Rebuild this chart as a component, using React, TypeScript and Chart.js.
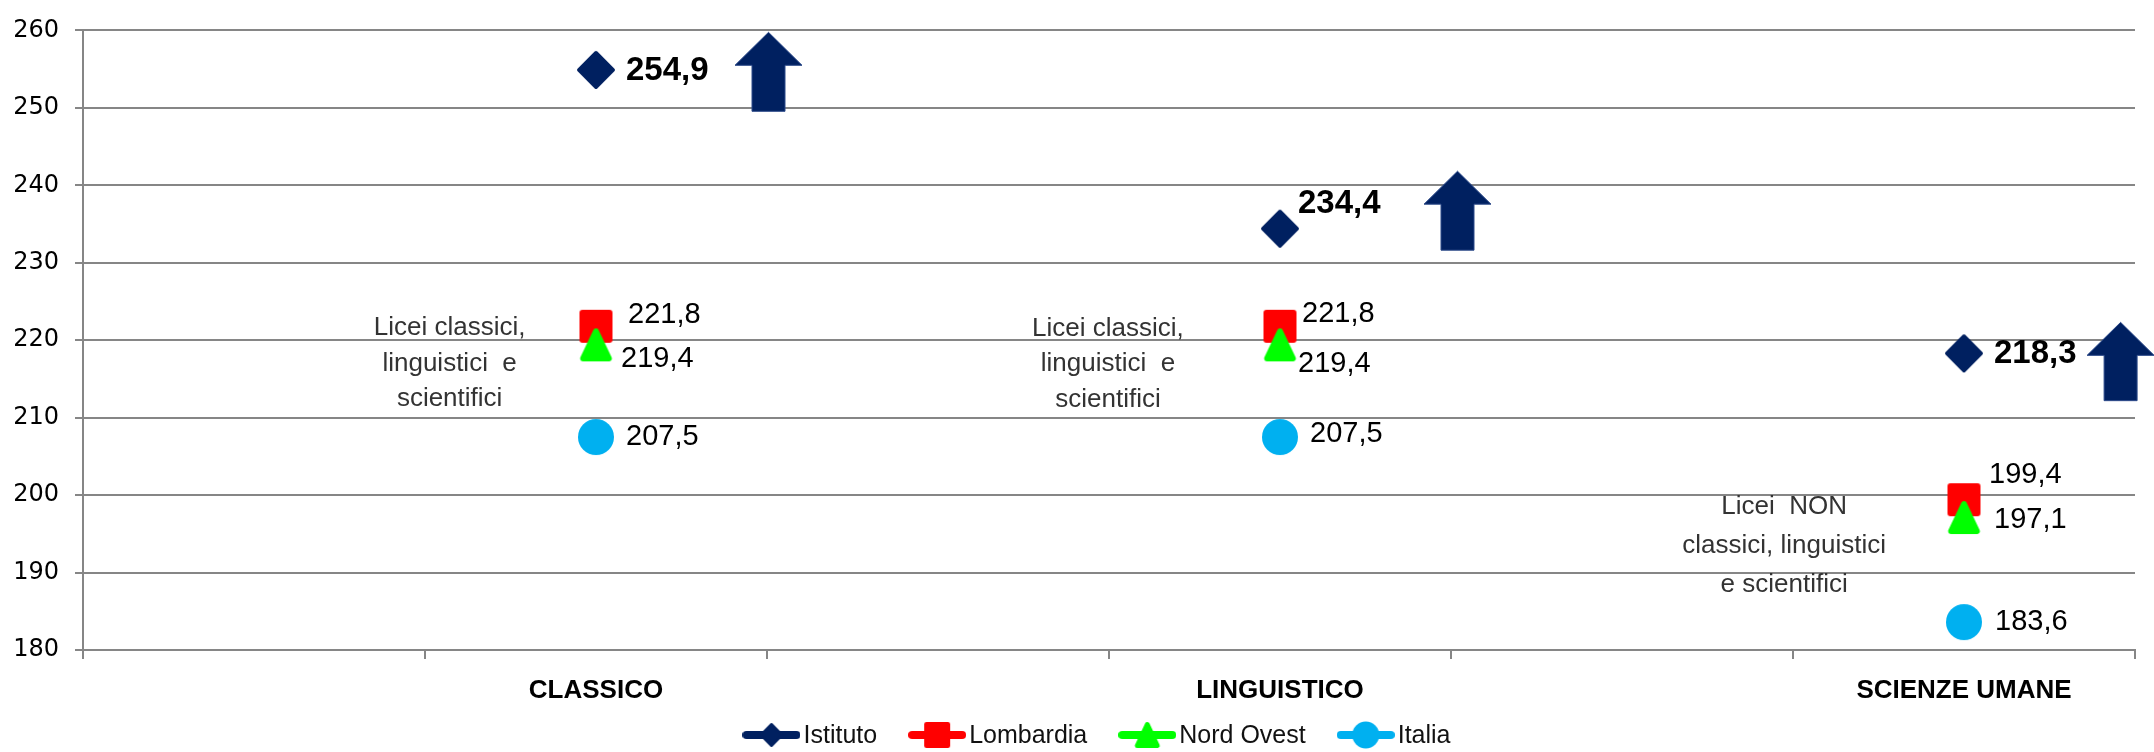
import React, { useEffect, useRef } from 'react';
import { Chart, registerables } from 'chart.js';

Chart.register(...registerables);

// ---------- data ----------
const categories = ['', 'CLASSICO', '', 'LINGUISTICO', '', 'SCIENZE UMANE'];
const seriesNames = ['Istituto', 'Lombardia', 'Nord Ovest', 'Italia'];
const istituto = [null, 254.9, null, 234.4, null, 218.3];
const lombardia = [null, 221.8, null, 221.8, null, 199.4];
const nordOvest = [null, 219.4, null, 219.4, null, 197.1];
const italia = [null, 207.5, null, 207.5, null, 183.6];
const yMin = 180;
const yMax = 260;
const yStep = 10;
const annotationTexts = [
  ['Licei classici,', 'linguistici  e', 'scientifici'],
  ['Licei classici,', 'linguistici  e', 'scientifici'],
  ['Licei  NON', 'classici, linguistici', 'e scientifici'],
];

// ---------- styles / placement ----------
const colors = ['#002060', '#FF0000', '#00FF00', '#00B0F0'];
const shapes = ['diamond', 'square', 'triangle', 'circle'];
const markerSizes = [38, 33, 33, 36];
const legendMarkerSizes = [24, 26, 26, 27];
const drawOrder = [1, 3, 2, 4];
// label offsets (px) from each drawn point, in point order
const labelOffsets = [
  [[30, 1], [18, -25], [30, 1]],
  [[32, -11], [22, -12], [25, -25]],
  [[25, 14], [18, 19], [30, 2]],
  [[30, 0], [30, -3], [31, 0]],
];
// arrows next to Istituto points: [dx, tipDy, bottomDy]
const arrowOffsets = [
  [172.5, -37.6, 41.4],
  [177.5, -57.5, 21.5],
  [156.6, -31, 47.3],
];
// annotation blocks: x in category index units, y in value units, line height px
const annotationPos = [
  { x: 0.572, y: 217.0, lh: 35.5 },
  { x: 2.497, y: 216.9, lh: 35.5 },
  { x: 4.474, y: 193.46, lh: 39 },
];

const FONT = "'Liberation Sans', Arial, sans-serif";

function pathShape(ctx: CanvasRenderingContext2D, shape: string, cx: number, cy: number, s: number, color: string) {
  ctx.fillStyle = color;
  ctx.strokeStyle = color;
  ctx.lineJoin = 'round';
  if (shape === 'circle') {
    ctx.beginPath();
    ctx.arc(cx, cy, s / 2, 0, Math.PI * 2);
    ctx.fill();
    return;
  }
  const lw = shape === 'diamond' ? s * 0.1 : s * 0.18;
  const h = s / 2 - lw / 2;
  ctx.lineWidth = lw;
  ctx.beginPath();
  if (shape === 'diamond') {
    ctx.moveTo(cx, cy - h);
    ctx.lineTo(cx + h, cy);
    ctx.lineTo(cx, cy + h);
    ctx.lineTo(cx - h, cy);
  } else if (shape === 'square') {
    ctx.rect(cx - h, cy - h, 2 * h, 2 * h);
  } else {
    ctx.moveTo(cx, cy - h);
    ctx.lineTo(cx + h * 0.95, cy + h);
    ctx.lineTo(cx - h * 0.95, cy + h);
  }
  ctx.closePath();
  ctx.fill();
  ctx.stroke();
}

function makeMarker(shape: string, s: number, color: string) {
  const c = document.createElement('canvas');
  const size = Math.ceil(s + 4);
  c.width = size;
  c.height = size;
  const ctx = c.getContext('2d')!;
  pathShape(ctx, shape, size / 2, size / 2, s, color);
  return c;
}

function makeLegendIcon(shape: string, s: number, color: string) {
  const c = document.createElement('canvas');
  c.width = 58;
  c.height = 30;
  const ctx = c.getContext('2d')!;
  ctx.strokeStyle = color;
  ctx.lineWidth = 8;
  ctx.lineCap = 'round';
  ctx.beginPath();
  ctx.moveTo(4, 15);
  ctx.lineTo(54, 15);
  ctx.stroke();
  pathShape(ctx, shape, 29, 15, s, color);
  return c;
}

const fmt = (v: number) => v.toFixed(1).replace('.', ',');

export default function App() {
  const ref = useRef<HTMLCanvasElement>(null);

  useEffect(() => {
    document.body.style.margin = '0';
    document.body.style.overflow = 'hidden';
    const canvas = ref.current!;
    const seriesData = [istituto, lombardia, nordOvest, italia];
    const markers = shapes.map((sh, i) => makeMarker(sh, markerSizes[i], colors[i]));
    const legendIcons = shapes.map((sh, i) => makeLegendIcon(sh, legendMarkerSizes[i], colors[i]));

    const decorPlugin = {
      id: 'decor',
      afterDatasetsDraw(chart: any) {
        const ctx: CanvasRenderingContext2D = chart.ctx;
        const xs = chart.scales.x;
        const ys = chart.scales.y;
        ctx.save();
        // annotations
        ctx.fillStyle = '#333333';
        ctx.font = `26px ${FONT}`;
        ctx.textAlign = 'center';
        ctx.textBaseline = 'middle';
        annotationTexts.forEach((lines, k) => {
          const p = annotationPos[k];
          const cx = xs.getPixelForValue(p.x);
          const cy = ys.getPixelForValue(p.y);
          lines.forEach((ln, li) => {
            ctx.fillText(ln, cx, cy + (li - (lines.length - 1) / 2) * p.lh);
          });
        });
        // arrows next to Istituto
        const meta0 = chart.getDatasetMeta(0);
        let ai = 0;
        meta0.data.forEach((el: any, j: number) => {
          if (istituto[j] == null) return;
          const [dx, tipDy, botDy] = arrowOffsets[ai++];
          const cx = el.x + dx;
          const tip = el.y + tipDy;
          const base = tip + 33;
          const bot = el.y + botDy;
          ctx.fillStyle = colors[0];
          ctx.strokeStyle = '#2c4a8a';
          ctx.lineWidth = 1;
          ctx.beginPath();
          ctx.moveTo(cx, tip);
          ctx.lineTo(cx + 33.5, base);
          ctx.lineTo(cx + 16.5, base);
          ctx.lineTo(cx + 16.5, bot);
          ctx.lineTo(cx - 16.5, bot);
          ctx.lineTo(cx - 16.5, base);
          ctx.lineTo(cx - 33.5, base);
          ctx.closePath();
          ctx.fill();
          ctx.stroke();
        });
        // data labels
        ctx.textAlign = 'left';
        ctx.textBaseline = 'middle';
        ctx.fillStyle = '#000';
        seriesData.forEach((arr, i) => {
          const meta = chart.getDatasetMeta(i);
          ctx.font = i === 0 ? `bold 33px ${FONT}` : `29px ${FONT}`;
          let pi = 0;
          meta.data.forEach((el: any, j: number) => {
            const v = arr[j];
            if (v == null) return;
            const [dx, dy] = labelOffsets[i][pi++];
            ctx.fillText(fmt(v), el.x + dx, el.y + dy);
          });
        });
        ctx.restore();
      },
      afterDraw(chart: any) {
        const ctx: CanvasRenderingContext2D = chart.ctx;
        ctx.save();
        ctx.font = `25px ${FONT}`;
        ctx.textBaseline = 'middle';
        ctx.textAlign = 'left';
        ctx.fillStyle = '#111';
        const iconW = 58, gap = 3, spacing = 31;
        const widths = seriesNames.map((n) => iconW + gap + ctx.measureText(n).width);
        const total = widths.reduce((a, b) => a + b, 0) + spacing * (seriesNames.length - 1);
        let x = chart.width / 2 + 19.5 - total / 2;
        const cy = 735;
        seriesNames.forEach((n, i) => {
          ctx.drawImage(legendIcons[i], x, cy - 15);
          ctx.fillText(n, x + iconW + gap, cy + 1);
          x += widths[i] + spacing;
        });
        ctx.restore();
      },
    };

    const gridColor = '#868686';
    const chart = new Chart(canvas, {
      type: 'line',
      data: {
        labels: categories,
        datasets: seriesNames.map((name, i) => ({
          label: name,
          data: seriesData[i],
          showLine: false,
          borderColor: colors[i],
          backgroundColor: colors[i],
          pointStyle: markers[i] as any,
          pointRadius: 18,
          pointHoverRadius: 18,
          order: drawOrder[i],
        })),
      },
      options: {
        responsive: false,
        animation: false,
        events: [],
        layout: { padding: { top: 18, right: 11, bottom: 42, left: 0 } },
        plugins: {
          legend: { display: false },
          tooltip: { enabled: false },
        },
        scales: {
          x: {
            type: 'category',
            offset: true,
            grid: {
              offset: true,
              drawOnChartArea: false,
              drawTicks: true,
              tickLength: 9,
              color: gridColor,
              lineWidth: 2,
            },
            border: { display: true, color: gridColor, width: 2 },
            ticks: {
              autoSkip: false,
              maxRotation: 0,
              padding: 16,
              color: '#000',
              font: { family: FONT, size: 26, weight: 'bold' },
            },
            afterFit: (s: any) => {
              s.height = 60;
            },
          },
          y: {
            min: yMin,
            max: yMax,
            ticks: {
              stepSize: yStep,
              padding: 16,
              color: '#000',
              font: { family: "'DejaVu Sans', sans-serif", size: 24 },
            },
            grid: { color: gridColor, lineWidth: 2, tickLength: 8 },
            border: { display: true, color: gridColor, width: 2 },
            afterFit: (s: any) => {
              s.width = 83;
            },
          },
        },
      },
      plugins: [decorPlugin],
    } as any);

    return () => chart.destroy();
  }, []);

  return (
    <div style={{ width: 2154, height: 752, background: '#fff' }}>
      <canvas ref={ref} width={2154} height={752} style={{ display: 'block' }} />
    </div>
  );
}
